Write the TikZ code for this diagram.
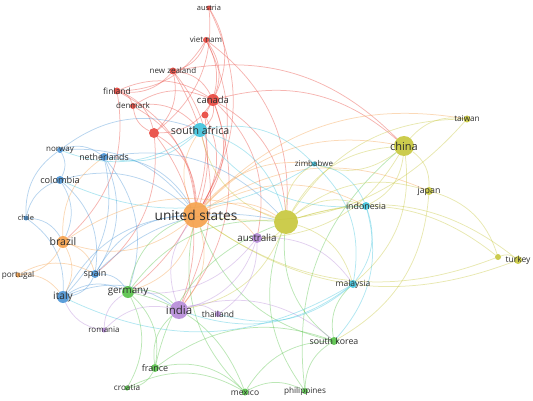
\documentclass[tikz,border=0pt]{standalone}
\usepackage{fontspec}
\setmainfont{Open Sans}
\pgfdeclarelayer{links}
\pgfsetlayers{links,main}
\definecolor{vred}{HTML}{E8453C}
\definecolor{vblue}{HTML}{4A94D6}
\definecolor{vorange}{HTML}{F5A04A}
\definecolor{vgreen}{HTML}{55C247}
\definecolor{vyellow}{HTML}{C6C63A}
\definecolor{vpurple}{HTML}{B68AD8}
\definecolor{vcyan}{HTML}{3EC3DD}
\tikzset{
  vnode/.style={circle, inner sep=0pt, minimum size=#1, fill opacity=0.9},
  lbl/.style={text=black!82, inner sep=0pt, font=\fontsize{#1}{#1}\selectfont},
  link/.style={draw=#1, line width=0.75pt, draw opacity=0.4},
}
\begin{document}
\begin{tikzpicture}[x=1pt, y=-1pt]
\useasboundingbox (0,0) rectangle (533,401);
% Items
\foreach \n/\x/\y/\d/\c in {
  austria/209/8/5/vred, vietnam/206/40/6/vred, nz/173/71/7/vred,
  finland/117/91/7/vred, denmark/133/106/6/vred, canada/213/100/12/vred,
  rtwo/205/115/7/vred, rone/154/133/10/vred,
  sa/200/130/14/vcyan, zimbabwe/314/164/5/vcyan, indonesia/366/206/8/vcyan,
  malaysia/353/284/8/vcyan,
  norway/60/150/6/vblue, netherlands/104/157/8/vblue, colombia/60/180/8/vblue,
  chile/26/218/5/vblue, spain/95/274/8/vblue, italy/63/297/12/vblue,
  brazil/63/242/12/vorange, portugal/18/275/5/vorange, us/196/215/26/vorange,
  germany/128/292/12/vgreen, france/155/368/8/vgreen, croatia/127/388/5/vgreen,
  mexico/245/392/7/vgreen, philippines/305/391/6/vgreen, skorea/334/341/8/vgreen,
  india/179/310/18/vpurple, thailand/218/314/6/vpurple, romania/104/330/5/vpurple,
  australia/257/238/10/vpurple,
  hub/286/222/24/vyellow, china/404/146/20/vyellow, taiwan/467/119/7/vyellow,
  japan/429/191/8/vyellow, turkey/518/260/8/vyellow, ytwo/498/257/6/vyellow}
  \node[vnode=\d, fill=\c] (\n) at (\x,\y) {};
% Labels
\foreach \n/\t/\s in {
  austria/austria/7.5, vietnam/viet nam/8, nz/new zealand/8, finland/finland/8.5,
  denmark/denmark/8, canada/canada/9.5, sa/south africa/10.6,
  zimbabwe/zimbabwe/8, indonesia/indonesia/8.8, malaysia/malaysia/8.5,
  norway/norway/8, netherlands/netherlands/8.8, colombia/colombia/9.2,
  chile/chile/7.5, spain/spain/9, italy/italy/10.2, brazil/brazil/10.5,
  portugal/portugal/8.2, us/united states/13.7, germany/germany/9.8,
  france/france/9, croatia/croatia/8.2, mexico/mexico/8.5,
  philippines/philippines/8.2, skorea/south korea/8.8, india/india/11.5,
  thailand/thailand/8.5, romania/romania/8, australia/australia/9.8,
  china/china/11, taiwan/taiwan/8.2, japan/japan/8.8, turkey/turkey/8.5}
  \node[lbl=\s] (\n-t) at (\n) {\t};
% Links
\begin{pgfonlayer}{links}
\foreach \a/\b in {austria/canada, austria/us, austria/rone, vietnam/finland,
  vietnam/nz, vietnam/us, vietnam/canada, vietnam/rtwo, vietnam/hub, nz/finland,
  nz/canada, nz/us, nz/china, nz/rone, nz/india, finland/denmark, finland/us,
  finland/canada, finland/rone, finland/brazil, denmark/us, denmark/canada,
  denmark/sa, canada/us, canada/china, canada/sa, canada/rone, canada/hub,
  canada/india, canada/australia, rone/us, rtwo/us, rone/denmark, rtwo/germany,
  rone/spain, rone/india}
  \draw[link=vred] (\a) to[bend left=28] (\b);
\foreach \a/\b in {norway/netherlands, norway/us, norway/colombia, norway/sa,
  netherlands/us, netherlands/spain, netherlands/italy, netherlands/germany,
  netherlands/hub, colombia/us, colombia/brazil, colombia/spain, chile/brazil,
  chile/colombia, chile/italy, chile/norway, spain/italy, spain/us, italy/us,
  italy/germany, spain/germany, italy/india, spain/hub}
  \draw[link=vblue] (\a) to[bend left=28] (\b);
\foreach \a/\b in {us/brazil, brazil/portugal, brazil/hub, us/china, us/hub,
  us/australia, us/india, us/germany, us/sa, us/japan, us/zimbabwe,
  portugal/italy, portugal/spain, brazil/spain, brazil/netherlands,
  us/indonesia, us/taiwan, brazil/italy}
  \draw[link=vorange] (\a) to[bend left=28] (\b);
\foreach \a/\b in {germany/france, germany/india, germany/us, germany/hub,
  germany/croatia, germany/mexico, france/croatia, france/mexico, france/skorea,
  france/india, mexico/philippines, mexico/skorea, mexico/us, philippines/skorea,
  philippines/hub, skorea/hub, skorea/malaysia, skorea/us, france/hub,
  croatia/mexico, philippines/china}
  \draw[link=vgreen] (\a) to[bend left=28] (\b);
\foreach \a/\b in {hub/china, hub/japan, hub/taiwan, hub/turkey, hub/ytwo,
  china/taiwan, china/japan, china/zimbabwe, china/indonesia, japan/ytwo,
  ytwo/turkey, hub/indonesia, hub/sa, hub/zimbabwe, hub/malaysia,
  hub/australia, hub/india, ytwo/us, turkey/us, china/malaysia, taiwan/us,
  japan/skorea, china/australia}
  \draw[link=vyellow] (\a) to[bend left=28] (\b);
\foreach \a/\b in {australia/india, india/thailand, romania/india,
  romania/italy, australia/thailand, india/skorea, australia/germany,
  romania/germany, australia/malaysia, india/us}
  \draw[link=vpurple] (\a) to[bend left=28] (\b);
\foreach \a/\b in {sa/zimbabwe, zimbabwe/indonesia, indonesia/malaysia,
  malaysia/thailand, malaysia/italy, sa/netherlands, zimbabwe/malaysia,
  indonesia/sa, malaysia/india, sa/norway, zimbabwe/colombia, sa/hub,
  indonesia/skorea}
  \draw[link=vcyan] (\a) to[bend left=28] (\b);
\end{pgfonlayer}
\end{tikzpicture}
\end{document}
